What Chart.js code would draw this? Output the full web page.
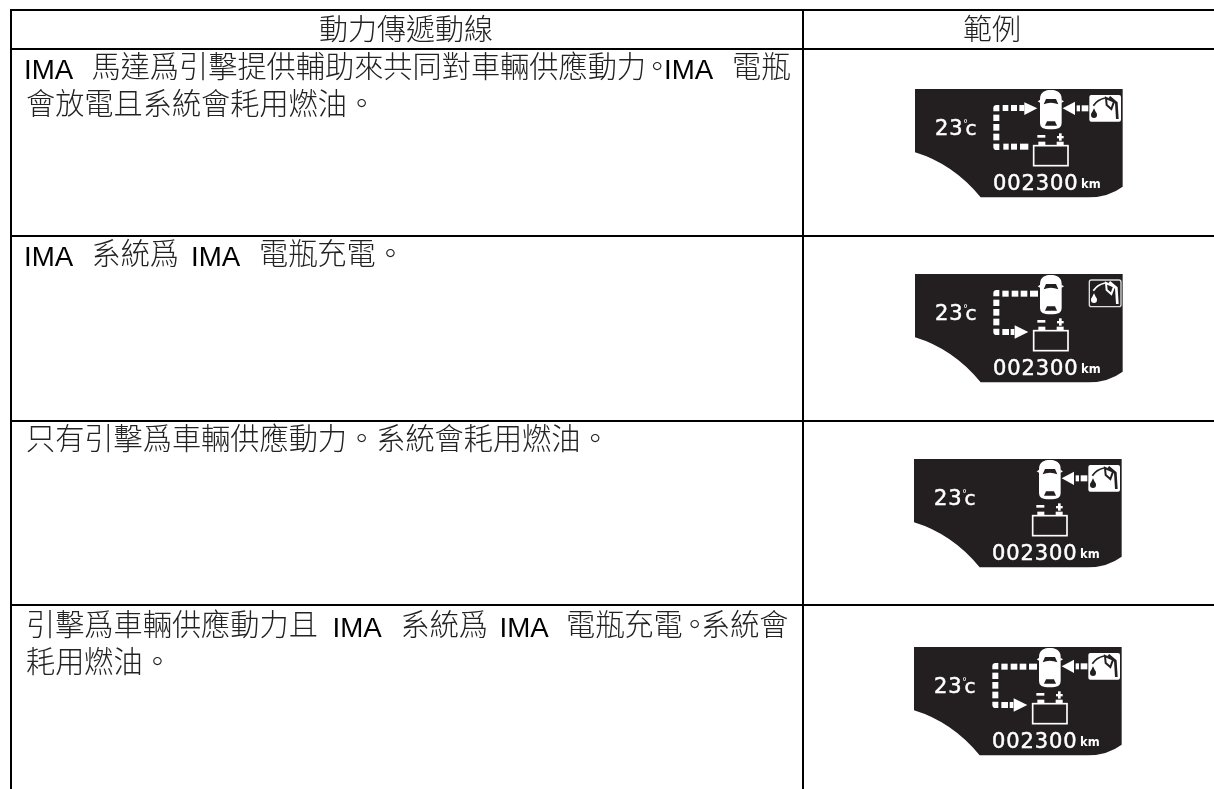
<!DOCTYPE html>
<html>
<head>
<meta charset="utf-8">
<title>動力傳遞動線</title>
<script src="https://cdn.jsdelivr.net/npm/chart.js@4"></script>
<style>
  html, body { margin: 0; padding: 0; background: #fff; overflow: hidden; }
  canvas { display: block; }
</style>
</head>
<body>
<canvas id="tableChart" width="1214" height="789"></canvas>
<script>
// ─── Table content ─────────────────────────────────────────
const headers = ['動力傳遞動線', '範例'];
const row1Line1 = ['IMA', '馬達爲引擊提供輔助來共同對車輛供應動力', '。', 'IMA', '電瓶'];
const row1Line2 = ['會放電且系統會耗用燃油。'];
const row2Line1 = ['IMA', '系統爲', 'IMA', '電瓶充電。'];
const row3Line1 = ['只有引擊爲車輛供應動力。系統會耗用燃油。'];
const row4Line1 = ['引擊爲車輛供應動力且', 'IMA', '系統爲', 'IMA', '電瓶充電', '。', '系統會'];
const row4Line2 = ['耗用燃油。'];

// which flows each example display lights up
const engineToCar = [1, 0, 1, 1];
const batteryToCar = [1, 0, 0, 0];
const carToBattery = [0, 1, 0, 1];
const fuelIconSolid = [1, 0, 1, 1];
const temperature = ['23', '23', '23', '23'];
const odometer = ['002300', '002300', '002300', '002300'];
const odometerUnit = 'km';

// ─── Layout ────────────────────────────────────────────────
const pageW = 1214, pageH = 789;
const ruleY = [10, 49, 236, 421, 605];
const ruleX = [11, 803];
const panelLeft = [915, 915, 914, 914];
const panelTop = [89, 274, 459, 647];
const lines = [
  { runs: row1Line1, x: [24, 91.5, 642.5, 664, 732], y: 77 },
  { runs: row1Line2, x: [26], y: 114 },
  { runs: row2Line1, x: [24, 91.5, 191, 259], y: 264 },
  { runs: row3Line1, x: [26], y: 449 },
  { runs: row4Line1, x: [26, 332.5, 400.5, 499.5, 566, 680, 701], y: 635 },
  { runs: row4Line2, x: [26], y: 672 }
];

const CJK = '"Noto Sans CJK TC"';
const INK = '#231f20';

function isLatin(s) { return /^[A-Za-z]+$/.test(s); }

function ruleDatasets() {
  const sets = [];
  ruleY.forEach(y => sets.push([{ x: ruleX[0] - 1, y }, { x: pageW, y }]));
  ruleX.forEach(x => sets.push([{ x, y: ruleY[0] - 1 }, { x, y: pageH }]));
  return sets.map(data => ({
    data, showLine: true, pointRadius: 0, borderColor: '#000', borderWidth: 2, tension: 0
  }));
}

// ─── Display artwork (drawn in 3x units from the panel corner) ─
function tiles(ctx, list) { list.forEach(t => ctx.fillRect(t[0], t[1], t[2], t[3])); }

function tri(ctx, a, b, c) {
  ctx.beginPath();
  ctx.moveTo(a[0], a[1]); ctx.lineTo(b[0], b[1]); ctx.lineTo(c[0], c[1]);
  ctx.closePath(); ctx.fill();
}

function drawCar(ctx) {
  ctx.fillStyle = '#fff';
  ctx.beginPath();
  ctx.moveTo(375, 30);
  ctx.bezierCurveTo(375, 8, 392, 3, 407, 3);
  ctx.bezierCurveTo(423, 3, 440, 8, 440, 30);
  ctx.lineTo(440, 100);
  ctx.bezierCurveTo(440, 118, 430, 121, 407, 121);
  ctx.bezierCurveTo(385, 121, 375, 118, 375, 100);
  ctx.closePath(); ctx.fill();
  tri(ctx, [376, 32], [376, 42], [368, 37]);
  tri(ctx, [439, 32], [439, 42], [447, 37]);
  ctx.fillStyle = INK;
  ctx.beginPath();
  ctx.moveTo(386, 46); ctx.lineTo(393, 30); ctx.lineTo(423, 30); ctx.lineTo(430, 46);
  ctx.quadraticCurveTo(407, 37, 386, 46);
  ctx.closePath(); ctx.fill();
  ctx.beginPath();
  ctx.moveTo(396, 97); ctx.lineTo(420, 97); ctx.lineTo(426, 110); ctx.lineTo(390, 110);
  ctx.closePath(); ctx.fill();
}

function drawBattery(ctx) {
  ctx.strokeStyle = '#fff';
  ctx.fillStyle = '#fff';
  ctx.lineWidth = 5;
  ctx.strokeRect(356, 170, 103, 60);
  tiles(ctx, [[370, 158, 21, 11], [425, 158, 21, 11], [367, 138, 24, 8], [426, 141, 20, 7], [432, 133, 8, 22]]);
}

function drawFuel(ctx, solid) {
  const fg = solid ? '#fff' : INK, line = solid ? INK : '#fff';
  ctx.save();
  ctx.translate(523, 18);
  ctx.fillStyle = fg;
  ctx.beginPath(); ctx.roundRect(0, 0, 95, 80, 6); ctx.fill();
  if (!solid) { ctx.strokeStyle = '#ddd'; ctx.lineWidth = 4; ctx.stroke(); }
  ctx.strokeStyle = line;
  ctx.lineWidth = 5;
  ctx.beginPath(); ctx.moveTo(12, 32); ctx.quadraticCurveTo(24, 14, 47, 9); ctx.stroke();
  ctx.lineWidth = 6;
  ctx.beginPath(); ctx.moveTo(50, 9); ctx.lineTo(74, 20); ctx.lineTo(66, 42); ctx.lineTo(52, 30); ctx.closePath(); ctx.stroke();
  ctx.lineWidth = 8;
  ctx.beginPath(); ctx.moveTo(60, 6); ctx.lineTo(81, 24); ctx.lineTo(84, 72); ctx.stroke();
  ctx.fillStyle = line;
  ctx.beginPath(); ctx.arc(14, 60, 9, 0, Math.PI * 2); ctx.fill();
  tri(ctx, [14, 40], [6, 56], [22, 56]);
  ctx.restore();
}

function drawFlows(ctx, i) {
  ctx.fillStyle = '#fff';
  if (engineToCar[i]) {
    tiles(ctx, [[485, 49, 10, 18], [500, 49, 20, 18]]);
    tri(ctx, [443, 58], [480, 38], [480, 78]);
  }
  const loop = batteryToCar[i] || carToBattery[i];
  if (loop) {
    // shared corner and side column of the loop
    ctx.beginPath(); ctx.roundRect(235, 48, 18, 19, [10, 0, 0, 0]); ctx.fill();
    ctx.beginPath(); ctx.roundRect(235, 164, 18, 19, [0, 0, 0, 10]); ctx.fill();
    tiles(ctx, [[235, 77, 18, 19], [235, 105, 18, 20], [235, 134, 18, 20]]);
  }
  if (batteryToCar[i]) {
    tiles(ctx, [[263, 48, 17, 18], [288, 48, 18, 18], [313, 48, 15, 18]]);
    tri(ctx, [367, 58], [328, 40], [328, 78]);
    tiles(ctx, [[265, 164, 16, 18], [288, 164, 18, 18], [315, 164, 25, 18]]);
  }
  if (carToBattery[i]) {
    tiles(ctx, [[262, 50, 19, 18], [290, 50, 20, 18], [317, 50, 20, 18], [345, 50, 24, 18]]);
    tiles(ctx, [[262, 165, 20, 18], [287, 165, 11, 18]]);
    tri(ctx, [340, 174], [299, 154], [299, 194]);
  }
}

function label(ctx, text, x, y) {
  ctx.strokeText(text, x, y);
  ctx.fillText(text, x, y);
}

function drawPanel(chart, i) {
  const { ctx, scales: { x, y } } = chart;
  const px = x.getPixelForValue(panelLeft[i]), py = y.getPixelForValue(panelTop[i]);

  ctx.save();
  ctx.translate(px, py);
  ctx.scale(1 / 3, 1 / 3);
  ctx.fillStyle = INK;
  ctx.beginPath();
  ctx.moveTo(0, 0);
  ctx.lineTo(623, 0);
  ctx.lineTo(623, 293);
  ctx.quadraticCurveTo(580, 325, 520, 325);
  ctx.lineTo(197, 325);
  ctx.quadraticCurveTo(115, 225, 0, 190);
  ctx.closePath();
  ctx.fill();
  drawFlows(ctx, i);
  drawCar(ctx);
  drawBattery(ctx);
  drawFuel(ctx, fuelIconSolid[i]);
  ctx.restore();

  ctx.save();
  ctx.fillStyle = '#fff';
  ctx.strokeStyle = '#fff';
  ctx.lineWidth = 0.5;
  ctx.textAlign = 'left';
  ctx.textBaseline = 'alphabetic';
  ctx.font = '21px "DejaVu Sans"';
  ctx.letterSpacing = '0.9px';
  label(ctx, temperature[i], px + 20, py + 46);
  label(ctx, odometer[i], px + 78, py + 101);
  ctx.letterSpacing = '0px';
  ctx.font = '20px "DejaVu Sans"';
  label(ctx, 'c', px + 50.5, py + 46);
  ctx.font = '10px "DejaVu Sans"';
  ctx.fillText('°', px + 48, py + 38);
  ctx.font = 'bold 11.5px "DejaVu Sans"';
  ctx.fillText(odometerUnit, px + 166, py + 99);
  ctx.restore();
}

// ─── Text + displays on top of the rules ───────────────────
const tablePlugin = {
  id: 'tablePlugin',
  afterDatasetsDraw(chart) {
    const { ctx, scales: { x, y } } = chart;
    ctx.save();
    ctx.fillStyle = '#222';
    ctx.textBaseline = 'alphabetic';

    ctx.textAlign = 'center';
    ctx.font = `300 29px ${CJK}`;
    ctx.fillText(headers[0], x.getPixelForValue(406), y.getPixelForValue(40));
    ctx.fillText(headers[1], x.getPixelForValue(992), y.getPixelForValue(40));

    ctx.textAlign = 'left';
    lines.forEach(l => {
      l.runs.forEach((run, i) => {
        const latin = isLatin(run);
        ctx.fillStyle = latin ? '#000' : '#222';
        ctx.font = latin ? '27.7px "Liberation Sans"' : `300 29.2px ${CJK}`;
        ctx.fillText(run, x.getPixelForValue(l.x[i]), y.getPixelForValue(l.y + (latin ? 2 : 0)));
      });
    });
    ctx.restore();

    panelLeft.forEach((_, i) => drawPanel(chart, i));
  }
};

new Chart(document.getElementById('tableChart'), {
  type: 'scatter',
  data: { datasets: ruleDatasets() },
  options: {
    responsive: false,
    animation: false,
    events: [],
    layout: { padding: 0 },
    plugins: { legend: { display: false }, tooltip: { enabled: false } },
    scales: {
      x: { type: 'linear', min: 0, max: pageW, display: false },
      y: { type: 'linear', min: 0, max: pageH, reverse: true, display: false }
    }
  },
  plugins: [tablePlugin]
});
</script>
</body>
</html>
